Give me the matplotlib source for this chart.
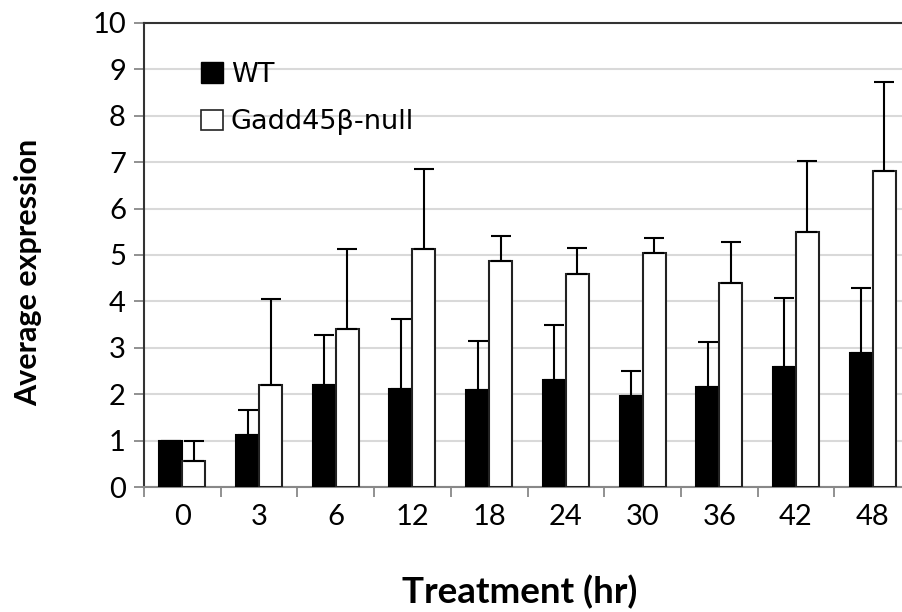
import numpy as np
import matplotlib
matplotlib.use("Agg")
import matplotlib.pyplot as plt
from matplotlib.patches import Patch

# data
hours = ["0", "3", "6", "12", "18", "24", "30", "36", "42", "48"]
wt_mean = [1.0, 1.12, 2.2, 2.12, 2.1, 2.3, 1.97, 2.15, 2.59, 2.89]
wt_top = [1.0, 1.65, 3.27, 3.62, 3.15, 3.5, 2.5, 3.12, 4.08, 4.28]
null_mean = [0.55, 2.2, 3.4, 5.12, 4.88, 4.6, 5.05, 4.4, 5.49, 6.82]
null_top = [1.0, 4.05, 5.12, 6.85, 5.4, 5.15, 5.37, 5.29, 7.02, 8.72]

wt_err = np.array(wt_top) - np.array(wt_mean)
null_err = np.array(null_top) - np.array(null_mean)

fig = plt.figure(figsize=(9.02, 6.12), dpi=100)
# plot area runs past the right edge of the picture, as in the reference
ax = fig.add_axes([144 / 902, 1 - 487 / 612, 767 / 902, 464 / 612])

x = np.arange(len(hours))
w = 0.3
err_kw = dict(ecolor="black", elinewidth=1.5, capsize=7, capthick=1.5)
ax.bar(x - w / 2, wt_mean, w, color="black", edgecolor="black", linewidth=1.5,
       yerr=[np.zeros(len(x)), wt_err], error_kw=err_kw, zorder=3)
ax.bar(x + w / 2, null_mean, w, color="white", edgecolor="#222222", linewidth=1.5,
       yerr=[np.zeros(len(x)), null_err], error_kw=err_kw, zorder=3)

ax.set_xlim(-0.5, len(hours) - 0.5)
ax.set_ylim(0, 10)
ax.set_yticks(range(0, 11))
ax.yaxis.grid(True, color="#d9d9d9", linewidth=1.5)
ax.set_axisbelow(True)

ax.set_xticks(x)
ax.set_xticklabels(hours, fontfamily="Lato", fontsize=21)
ax.set_xticks(np.arange(-0.5, len(hours)), minor=True)
ax.tick_params(axis="x", which="major", length=0, pad=12)
ax.tick_params(axis="x", which="minor", length=7, color="#888888", width=1.3)
ax.tick_params(axis="y", length=7, color="#888888", width=1.3, pad=6)
for lab in ax.get_yticklabels():
    lab.set_fontfamily("Lato")
    lab.set_fontsize(21)

ax.spines["left"].set_color("#333333")
ax.spines["left"].set_linewidth(1.5)
ax.spines["top"].set_color("#333333")
ax.spines["top"].set_linewidth(1.5)
ax.spines["bottom"].set_color("#888888")
ax.spines["bottom"].set_linewidth(1.5)
ax.spines["right"].set_visible(False)

fig.text(28 / 902, 1 - 272 / 612, "Average expression", rotation=90,
         ha="center", va="center", fontfamily="Lato", fontweight="bold",
         fontsize=22)
fig.text(520 / 902, 1 - 592 / 612, "Treatment (hr)", ha="center", va="center",
         fontfamily="Lato", fontweight="bold", fontsize=26.5)

handles = [Patch(facecolor="black", edgecolor="black"),
           Patch(facecolor="white", edgecolor="#222222", linewidth=1.2)]
leg = ax.legend(handles, ["WT", "Gadd45\u03b2-null"], loc="upper left",
                bbox_to_anchor=(0.06, 0.94), frameon=False, fontsize=19.5,
                handlelength=0.8, handleheight=0.8, handletextpad=0.3,
                labelspacing=0.8, borderaxespad=0)

fig.savefig("out.png", dpi=100)
